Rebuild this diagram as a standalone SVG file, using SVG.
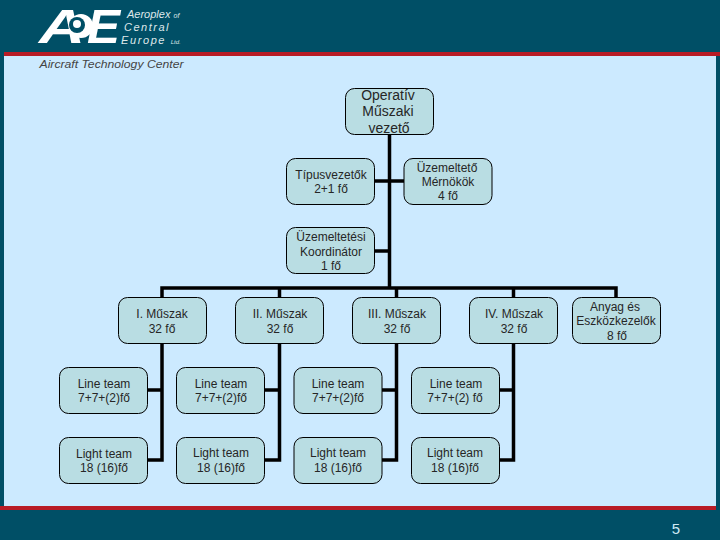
<svg xmlns="http://www.w3.org/2000/svg" width="720" height="540" viewBox="0 0 720 540">
<style>
.n{fill:#b9dde3;stroke:#000;stroke-width:1}
text{font-family:"Liberation Sans",Arial,sans-serif;font-size:12px;fill:#262626;text-anchor:middle}
.c{fill:none;stroke:#000;stroke-width:3.5}
.lg{fill:#dfe8ea;text-anchor:start}
.big{fill:#fff;font-size:48px;font-weight:bold;text-anchor:start}
.t{font-size:14px}
</style>
<rect width="720" height="540" fill="#004f66"/>
<rect x="4" y="56" width="712" height="450" fill="#cceaff"/>
<rect x="4" y="52" width="716" height="4" fill="#b81c26"/>
<rect x="0" y="506" width="716" height="4" fill="#b81c26"/>
<g id="logo">
<text class="big" x="39" y="43" textLength="46" lengthAdjust="spacingAndGlyphs" style="font-style:italic">A</text>
<circle cx="81" cy="26" r="12" fill="#fff"/>
<circle cx="77" cy="25" r="8" fill="#004f66"/>
<circle cx="77" cy="24" r="4" fill="#fff"/>
<text class="big" x="87" y="43" textLength="33" lengthAdjust="spacingAndGlyphs" style="font-style:italic">E</text>
<text class="lg" x="127" y="18" style="font-size:11px;font-style:italic">Aeroplex <tspan style="font-size:7px">of</tspan></text>
<text class="lg" x="124" y="31" style="font-size:11px;letter-spacing:1.5px;font-style:italic">Central</text>
<text class="lg" x="121" y="44" style="font-size:11px;letter-spacing:1.6px;font-style:italic">Europe <tspan style="font-size:6px;letter-spacing:0">Ltd.</tspan></text>
<text x="111.500" y="68" style="font-size:11px;font-style:italic;fill:#444" textLength="144" lengthAdjust="spacingAndGlyphs">Aircraft Technology Center</text>
</g>
<g id="connectors">
<path class="c" d="M389.500 135V288M375 181H404M375 251H389.500M162 299V288H616V298M279.500 288V298M396.500 288V298M513.500 288V298"/>
<path class="c" d="M162 344V460H147.500M147.500 390H162"/>
<path class="c" d="M279.500 344V460H264.500M264.500 390H279.500"/>
<path class="c" d="M396.500 344V460H382M382 390H396.500"/>
<path class="c" d="M513.500 344V460H499.500M499.500 390H513.500"/>
</g>
<g id="n1"><rect class="n" x="345.500" y="88.500" width="88" height="46" rx="9"/><text class="t" x="388" y="100">Operatív</text><text class="t" x="388" y="116">Műszaki</text><text class="t" x="389" y="133">vezető</text></g>
<g id="n2"><rect class="n" x="286.500" y="158.500" width="88" height="46" rx="9"/><text x="331" y="179">Típusvezetők</text><text x="331" y="193">2+1 fő</text></g>
<g id="n3"><rect class="n" x="404" y="158.500" width="88" height="46" rx="9"/><text x="447" y="172">Üzemeltető</text><text x="448" y="186">Mérnökök</text><text x="448" y="200">4 fő</text></g>
<g id="n4"><rect class="n" x="286.500" y="227.500" width="88" height="46" rx="9"/><text x="331" y="241">Üzemeltetési</text><text x="331" y="256">Koordinátor</text><text x="331" y="270">1 fő</text></g>
<g id="s1"><rect class="n" x="118.500" y="297.500" width="88" height="46" rx="9"/><text x="162" y="318">I. Műszak</text><text x="162" y="333">32 fő</text></g>
<g id="s2"><rect class="n" x="235.500" y="297.500" width="88" height="46" rx="9"/><text x="280" y="318">II. Műszak</text><text x="280" y="333">32 fő</text></g>
<g id="s3"><rect class="n" x="352.500" y="297.500" width="88" height="46" rx="9"/><text x="397" y="318">III. Műszak</text><text x="397" y="333">32 fő</text></g>
<g id="s4"><rect class="n" x="469.500" y="297.500" width="88" height="46" rx="9"/><text x="514" y="318">IV. Műszak</text><text x="514" y="333">32 fő</text></g>
<g id="s5"><rect class="n" x="572.500" y="297.500" width="88" height="46" rx="9"/><text x="615" y="311">Anyag és</text><text x="616" y="325">Eszközkezelők</text><text x="617" y="340">8 fő</text></g>
<g id="l1"><rect class="n" x="59.500" y="367.500" width="88" height="46" rx="9"/><text x="104" y="388">Line team</text><text x="104" y="402">7+7+(2)fő</text></g>
<g id="l2"><rect class="n" x="176.500" y="367.500" width="88" height="46" rx="9"/><text x="221" y="388">Line team</text><text x="221" y="402">7+7+(2)fő</text></g>
<g id="l3"><rect class="n" x="294" y="367.500" width="88" height="46" rx="9"/><text x="338" y="388">Line team</text><text x="338" y="402">7+7+(2)fő</text></g>
<g id="l4"><rect class="n" x="411.500" y="367.500" width="88" height="46" rx="9"/><text x="456" y="388">Line team</text><text x="455" y="402">7+7+(2) fő</text></g>
<g id="g1"><rect class="n" x="59.500" y="437.500" width="88" height="46" rx="9"/><text x="104" y="458">Light team</text><text x="104" y="472">18 (16)fő</text></g>
<g id="g2"><rect class="n" x="176.500" y="437.500" width="88" height="46" rx="9"/><text x="221" y="457">Light team</text><text x="221" y="472">18 (16)fő</text></g>
<g id="g3"><rect class="n" x="294" y="437.500" width="88" height="46" rx="9"/><text x="338" y="457">Light team</text><text x="338" y="472">18 (16)fő</text></g>
<g id="g4"><rect class="n" x="411.500" y="437.500" width="88" height="46" rx="9"/><text x="455" y="457">Light team</text><text x="455" y="472">18 (16)fő</text></g>
<text x="676" y="534" style="font-size:15px;fill:#cfeaf5">5</text>
</svg>
